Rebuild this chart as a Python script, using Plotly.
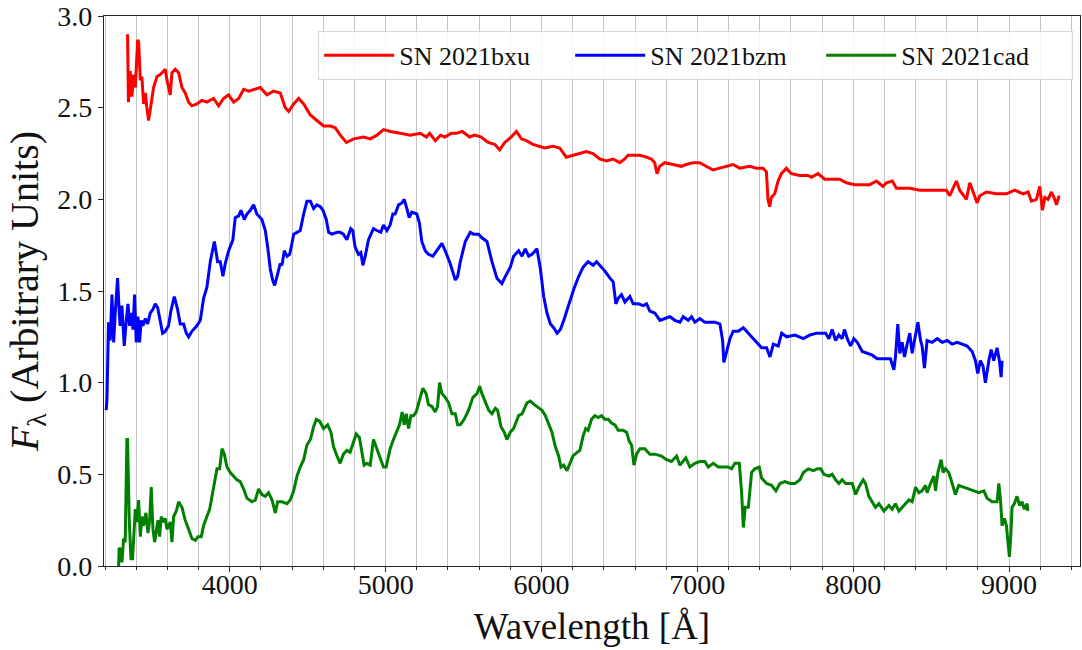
import plotly.graph_objects as go

# ---------------- data ----------------
RED_WAVE = [3344, 3350, 3361, 3372, 3383, 3394, 3409, 3415, 3426, 3436, 3447, 3458, 3468, 3479, 3490,
            3511, 3533, 3554, 3586, 3597, 3618, 3629, 3650, 3672, 3693, 3714, 3736, 3757, 3789, 3821,
            3853, 3896, 3928, 3960, 3992, 4025, 4057, 4089, 4121, 4153, 4196, 4217, 4238, 4281, 4324,
            4356, 4378, 4410, 4442, 4474, 4517, 4559, 4602, 4645, 4677, 4709, 4748, 4795, 4859, 4902,
            4944, 4987, 5030, 5094, 5158, 5222, 5261, 5282, 5319, 5351, 5379, 5421, 5453, 5492, 5539,
            5571, 5614, 5657, 5699, 5732, 5764, 5806, 5839, 5871, 5903, 5945, 5988, 6020, 6074, 6117,
            6159, 6202, 6245, 6288, 6331, 6373, 6416, 6459, 6502, 6534, 6555, 6598, 6630, 6673, 6705,
            6726, 6741, 6758, 6790, 6844, 6897, 6929, 6972, 7015, 7058, 7100, 7143, 7186, 7229, 7271,
            7336, 7379, 7421, 7443, 7453, 7464, 7475, 7496, 7518, 7539, 7571, 7603, 7657, 7710, 7732,
            7774, 7817, 7860, 7913, 7956, 8010, 8063, 8106, 8149, 8191, 8213, 8251, 8277, 8320, 8363,
            8427, 8491, 8555, 8598, 8619, 8662, 8683, 8726, 8748, 8769, 8795, 8812, 8855, 8919, 8983,
            9036, 9090, 9122, 9143, 9175, 9197, 9214, 9229, 9250, 9272, 9293, 9304, 9321]
RED_FLUX = [2.90, 2.53, 2.70, 2.56, 2.68, 2.61, 2.87, 2.86, 2.65, 2.67, 2.52, 2.58, 2.50, 2.43, 2.49,
            2.61, 2.67, 2.68, 2.71, 2.65, 2.57, 2.69, 2.71, 2.69, 2.61, 2.58, 2.53, 2.51, 2.52, 2.54,
            2.53, 2.55, 2.51, 2.55, 2.57, 2.53, 2.55, 2.60, 2.59, 2.60, 2.61, 2.59, 2.57, 2.59, 2.58,
            2.50, 2.48, 2.52, 2.55, 2.52, 2.46, 2.43, 2.40, 2.40, 2.39, 2.35, 2.31, 2.33, 2.34, 2.33,
            2.35, 2.38, 2.37, 2.36, 2.35, 2.36, 2.34, 2.36, 2.32, 2.35, 2.34, 2.36, 2.36, 2.37, 2.34,
            2.35, 2.34, 2.31, 2.30, 2.27, 2.31, 2.34, 2.37, 2.33, 2.32, 2.30, 2.29, 2.28, 2.29, 2.28,
            2.23, 2.24, 2.25, 2.26, 2.25, 2.22, 2.21, 2.22, 2.20, 2.22, 2.24, 2.24, 2.24, 2.23, 2.22,
            2.20, 2.14, 2.18, 2.20, 2.19, 2.18, 2.19, 2.20, 2.20, 2.18, 2.16, 2.17, 2.18, 2.19, 2.17,
            2.18, 2.17, 2.17, 2.15, 2.00, 1.96, 2.01, 2.03, 2.10, 2.14, 2.17, 2.14, 2.13, 2.13, 2.12,
            2.14, 2.11, 2.11, 2.11, 2.09, 2.08, 2.08, 2.08, 2.10, 2.07, 2.09, 2.10, 2.06, 2.06, 2.06,
            2.05, 2.05, 2.05, 2.05, 2.02, 2.10, 2.05, 2.00, 2.09, 2.04, 1.98, 2.02, 2.04, 2.03, 2.03,
            2.05, 2.03, 2.04, 1.99, 2.00, 2.07, 1.94, 2.01, 2.00, 2.04, 2.00, 1.97, 2.02]

BLUE_WAVE = [3207, 3212, 3222, 3233, 3244, 3255, 3265, 3280, 3291, 3297, 3308, 3323, 3336, 3347, 3357,
             3368, 3379, 3389, 3400, 3411, 3421, 3432, 3443, 3458, 3473, 3490, 3507, 3522, 3537, 3554,
             3569, 3586, 3607, 3622, 3644, 3665, 3682, 3704, 3721, 3736, 3757, 3789, 3811, 3832, 3853,
             3875, 3901, 3922, 3939, 3956, 3971, 3993, 4020, 4035, 4057, 4072, 4093, 4110, 4132, 4153,
             4174, 4206, 4228, 4243, 4260, 4275, 4288, 4303, 4324, 4335, 4350, 4367, 4384, 4399, 4410,
             4431, 4452, 4474, 4495, 4517, 4538, 4559, 4581, 4598, 4619, 4634, 4656, 4688, 4708, 4729,
             4751, 4776, 4789, 4804, 4826, 4841, 4854, 4869, 4890, 4911, 4922, 4943, 4969, 4986, 5008,
             5029, 5046, 5061, 5083, 5104, 5119, 5136, 5151, 5168, 5200, 5217, 5232, 5254, 5275, 5303,
             5329, 5361, 5382, 5414, 5447, 5462, 5479, 5511, 5543, 5564, 5596, 5618, 5650, 5682, 5714,
             5746, 5768, 5800, 5821, 5853, 5875, 5896, 5918, 5939, 5971, 5993, 6014, 6035, 6057, 6078,
             6100, 6121, 6143, 6175, 6207, 6239, 6267, 6299, 6332, 6353, 6374, 6406, 6439, 6460, 6477,
             6492, 6513, 6535, 6567, 6588, 6620, 6653, 6674, 6695, 6727, 6760, 6792, 6824, 6856, 6888,
             6909, 6941, 6963, 6984, 7016, 7048, 7081, 7113, 7145, 7162, 7170, 7188, 7209, 7230, 7262,
             7295, 7316, 7348, 7380, 7412, 7444, 7466, 7487, 7519, 7541, 7573, 7626, 7680, 7723, 7765,
             7791, 7823, 7844, 7865, 7887, 7908, 7929, 7944, 7962, 7983, 8004, 8026, 8058, 8090, 8122,
             8154, 8197, 8239, 8261, 8271, 8286, 8299, 8314, 8329, 8346, 8363, 8378, 8400, 8415, 8432,
             8442, 8457, 8474, 8506, 8539, 8571, 8603, 8635, 8667, 8699, 8731, 8763, 8784, 8799, 8816,
             8833, 8848, 8870, 8885, 8902, 8923, 8938, 8949, 8955]
BLUE_FLUX = [0.85, 0.91, 1.33, 1.23, 1.48, 1.22, 1.38, 1.57, 1.38, 1.31, 1.42, 1.20, 1.34, 1.43, 1.31,
             1.38, 1.29, 1.48, 1.22, 1.36, 1.22, 1.34, 1.31, 1.35, 1.32, 1.38, 1.40, 1.43, 1.41, 1.34,
             1.27, 1.28, 1.31, 1.39, 1.47, 1.40, 1.32, 1.32, 1.27, 1.25, 1.28, 1.31, 1.34, 1.46, 1.52,
             1.66, 1.77, 1.66, 1.66, 1.58, 1.65, 1.72, 1.78, 1.90, 1.91, 1.94, 1.89, 1.92, 1.94, 1.97,
             1.92, 1.89, 1.83, 1.74, 1.62, 1.56, 1.53, 1.58, 1.65, 1.64, 1.72, 1.69, 1.70, 1.76, 1.81,
             1.82, 1.83, 1.92, 1.99, 1.99, 1.95, 1.97, 1.96, 1.94, 1.89, 1.82, 1.81, 1.82, 1.82, 1.81,
             1.78, 1.84, 1.83, 1.74, 1.70, 1.71, 1.64, 1.69, 1.78, 1.82, 1.84, 1.83, 1.82, 1.86, 1.83,
             1.86, 1.92, 1.92, 1.97, 1.98, 2.00, 1.95, 1.90, 1.93, 1.92, 1.87, 1.77, 1.72, 1.70, 1.69,
             1.72, 1.76, 1.72, 1.65, 1.56, 1.58, 1.66, 1.77, 1.82, 1.81, 1.81, 1.79, 1.77, 1.66, 1.57,
             1.54, 1.58, 1.63, 1.69, 1.72, 1.69, 1.73, 1.69, 1.70, 1.73, 1.62, 1.47, 1.38, 1.32, 1.30,
             1.27, 1.29, 1.34, 1.43, 1.51, 1.58, 1.63, 1.66, 1.64, 1.66, 1.64, 1.61, 1.57, 1.55, 1.43,
             1.46, 1.48, 1.44, 1.47, 1.43, 1.43, 1.42, 1.43, 1.39, 1.38, 1.34, 1.35, 1.36, 1.34, 1.33,
             1.36, 1.34, 1.36, 1.33, 1.35, 1.33, 1.33, 1.33, 1.32, 1.23, 1.11, 1.17, 1.24, 1.28, 1.28,
             1.30, 1.28, 1.25, 1.22, 1.19, 1.19, 1.14, 1.21, 1.20, 1.27, 1.25, 1.26, 1.24, 1.26, 1.27,
             1.27, 1.27, 1.24, 1.29, 1.23, 1.26, 1.24, 1.29, 1.24, 1.20, 1.24, 1.22, 1.17, 1.16, 1.15,
             1.13, 1.13, 1.13, 1.07, 1.14, 1.32, 1.16, 1.22, 1.14, 1.21, 1.27, 1.16, 1.25, 1.33, 1.23,
             1.20, 1.08, 1.23, 1.22, 1.24, 1.22, 1.23, 1.21, 1.22, 1.21, 1.20, 1.17, 1.12, 1.05, 1.12,
             1.09, 1.00, 1.12, 1.18, 1.12, 1.19, 1.12, 1.03, 1.12]

GREEN_WAVE = [3287, 3290, 3297, 3308, 3319, 3329, 3340, 3344, 3355, 3366, 3376, 3383, 3394, 3404, 3415,
              3426, 3436, 3447, 3462, 3475, 3486, 3496, 3507, 3518, 3528, 3539, 3550, 3560, 3575, 3586,
              3597, 3607, 3618, 3629, 3640, 3657, 3672, 3693, 3714, 3736, 3757, 3779, 3796, 3817, 3832,
              3853, 3871, 3886, 3901, 3918, 3935, 3950, 3965, 3982, 4003, 4025, 4046, 4067, 4089, 4110,
              4142, 4164, 4185, 4206, 4228, 4249, 4271, 4292, 4307, 4335, 4367, 4388, 4410, 4431, 4452,
              4474, 4495, 4517, 4538, 4555, 4576, 4602, 4628, 4649, 4666, 4688, 4708, 4729, 4751, 4772,
              4794, 4811, 4832, 4847, 4862, 4879, 4901, 4922, 4943, 4965, 4986, 5003, 5029, 5050, 5072,
              5089, 5106, 5119, 5132, 5147, 5162, 5179, 5196, 5217, 5239, 5260, 5275, 5297, 5318, 5333,
              5346, 5361, 5382, 5404, 5425, 5447, 5462, 5479, 5504, 5532, 5560, 5586, 5603, 5618, 5639,
              5661, 5682, 5704, 5718, 5740, 5761, 5778, 5800, 5821, 5853, 5875, 5907, 5928, 5954, 5982,
              6003, 6025, 6046, 6067, 6089, 6110, 6125, 6142, 6164, 6181, 6202, 6228, 6246, 6267, 6284,
              6299, 6321, 6342, 6364, 6385, 6406, 6428, 6449, 6471, 6492, 6524, 6546, 6563, 6578, 6593,
              6610, 6631, 6663, 6695, 6727, 6770, 6802, 6834, 6867, 6888, 6909, 6926, 6952, 6984, 7016,
              7048, 7070, 7102, 7134, 7166, 7198, 7220, 7241, 7269, 7284, 7295, 7307, 7327, 7348, 7369,
              7397, 7412, 7444, 7476, 7504, 7530, 7562, 7594, 7626, 7658, 7680, 7712, 7744, 7770, 7791,
              7812, 7844, 7865, 7887, 7908, 7929, 7951, 7972, 7994, 8015, 8036, 8064, 8079, 8100, 8122,
              8143, 8165, 8197, 8229, 8250, 8271, 8293, 8325, 8357, 8378, 8400, 8421, 8442, 8464, 8474,
              8496, 8517, 8528, 8543, 8564, 8577, 8592, 8613, 8635, 8656, 8677, 8709, 8742, 8774, 8806,
              8838, 8859, 8891, 8912, 8923, 8934, 8945, 8955, 8970, 8983, 8994, 9002, 9012, 9019, 9034,
              9051, 9068, 9083, 9098, 9116, 9120]
GREEN_FLUX = [0.00, 0.10, 0.09, 0.02, 0.15, 0.13, 0.69, 0.69, 0.25, 0.04, 0.04, 0.18, 0.31, 0.24, 0.36,
              0.16, 0.27, 0.22, 0.29, 0.18, 0.25, 0.43, 0.20, 0.13, 0.20, 0.25, 0.16, 0.27, 0.24, 0.26,
              0.20, 0.22, 0.24, 0.13, 0.27, 0.30, 0.35, 0.32, 0.25, 0.20, 0.15, 0.14, 0.16, 0.16, 0.22,
              0.27, 0.31, 0.38, 0.45, 0.53, 0.53, 0.64, 0.61, 0.54, 0.51, 0.49, 0.47, 0.46, 0.42, 0.37,
              0.35, 0.36, 0.42, 0.39, 0.38, 0.40, 0.36, 0.29, 0.35, 0.35, 0.34, 0.36, 0.41, 0.49, 0.54,
              0.58, 0.66, 0.69, 0.76, 0.80, 0.79, 0.75, 0.77, 0.73, 0.65, 0.60, 0.56, 0.61, 0.63, 0.62,
              0.68, 0.72, 0.70, 0.62, 0.55, 0.56, 0.55, 0.69, 0.64, 0.59, 0.54, 0.54, 0.64, 0.69, 0.74,
              0.77, 0.84, 0.77, 0.83, 0.75, 0.82, 0.82, 0.84, 0.91, 0.97, 0.94, 0.88, 0.87, 0.84, 0.87,
              1.00, 0.94, 0.92, 0.89, 0.83, 0.83, 0.77, 0.77, 0.80, 0.85, 0.92, 0.94, 0.98, 0.94, 0.89,
              0.85, 0.83, 0.86, 0.85, 0.76, 0.73, 0.69, 0.73, 0.75, 0.82, 0.83, 0.89, 0.90, 0.88, 0.86,
              0.85, 0.82, 0.78, 0.73, 0.65, 0.60, 0.54, 0.55, 0.52, 0.56, 0.60, 0.62, 0.63, 0.71, 0.75,
              0.74, 0.80, 0.82, 0.81, 0.82, 0.80, 0.80, 0.78, 0.77, 0.74, 0.74, 0.73, 0.68, 0.66, 0.55,
              0.61, 0.64, 0.64, 0.61, 0.61, 0.60, 0.58, 0.57, 0.60, 0.55, 0.57, 0.59, 0.54, 0.56, 0.57,
              0.57, 0.54, 0.56, 0.54, 0.54, 0.54, 0.53, 0.56, 0.56, 0.40, 0.21, 0.32, 0.32, 0.51, 0.53,
              0.54, 0.48, 0.45, 0.44, 0.41, 0.45, 0.46, 0.45, 0.45, 0.47, 0.51, 0.53, 0.52, 0.53, 0.53,
              0.50, 0.49, 0.50, 0.47, 0.45, 0.47, 0.45, 0.45, 0.45, 0.39, 0.43, 0.47, 0.45, 0.38, 0.35,
              0.32, 0.34, 0.30, 0.33, 0.31, 0.34, 0.30, 0.33, 0.36, 0.35, 0.43, 0.40, 0.41, 0.44, 0.40,
              0.45, 0.49, 0.41, 0.51, 0.58, 0.51, 0.53, 0.51, 0.45, 0.39, 0.44, 0.43, 0.42, 0.41, 0.40,
              0.41, 0.37, 0.35, 0.35, 0.35, 0.45, 0.36, 0.22, 0.26, 0.22, 0.11, 0.05, 0.18, 0.32, 0.34,
              0.38, 0.33, 0.35, 0.31, 0.34, 0.30]

SERIES_NAMES = ["SN 2021bxu", "SN 2021bzm", "SN 2021cad"]
SERIES_COLORS = ["#ff0000", "#0000ff", "#008000"]

X_RANGE = [3193, 9455]
Y_RANGE = [0, 3]
Y_TICKS = [0.0, 0.5, 1.0, 1.5, 2.0, 2.5, 3.0]

FONT = "Liberation Serif, Times New Roman, serif"

# ---------------- figure ----------------
fig = go.Figure()
for name, color, xs, ys in zip(SERIES_NAMES, SERIES_COLORS,
                               [RED_WAVE, BLUE_WAVE, GREEN_WAVE],
                               [RED_FLUX, BLUE_FLUX, GREEN_FLUX]):
    fig.add_trace(go.Scatter(x=xs, y=ys, mode="lines", name=name,
                             line=dict(color=color, width=3)))

axis_line = "#262626"
fig.update_layout(
    width=1082, height=650,
    margin=dict(l=104, r=2, t=16, b=84),
    paper_bgcolor="white", plot_bgcolor="white",
    font=dict(family=FONT, color="#111111"),
    showlegend=True,
    legend=dict(
        orientation="h", x=0.993, xanchor="right", y=0.973, yanchor="top",
        font=dict(family=FONT, size=26, color="#111111"),
        bgcolor="rgba(255,255,255,0.85)", bordercolor="#d6d6d6", borderwidth=1,
        itemwidth=70, entrywidth=166, entrywidthmode="pixels",
        traceorder="normal",
    ),
    xaxis=dict(
        range=X_RANGE, autorange=False,
        tick0=0, dtick=1000, tickformat="d",
        ticks="outside", ticklen=5, tickwidth=1.2, tickcolor=axis_line,
        ticklabelstandoff=-12,
        tickfont=dict(family=FONT, size=28, color="#111111"),
        showgrid=True, gridcolor="#c4c4c4", gridwidth=1,
        minor=dict(dtick=200, tick0=0, ticks="outside", ticklen=3, tickwidth=1,
                   tickcolor=axis_line, showgrid=True, gridcolor="#c4c4c4", gridwidth=1),
        showline=True, linecolor=axis_line, linewidth=1.3, mirror=True,
        zeroline=False,
        title=dict(text="Wavelength [Å]", font=dict(family=FONT, size=37, color="#111111"),
                   standoff=14),
    ),
    yaxis=dict(
        range=Y_RANGE, autorange=False,
        tickvals=Y_TICKS, tickformat=".1f",
        ticks="outside", ticklen=5, tickwidth=1.2, tickcolor=axis_line,
        tickfont=dict(family=FONT, size=28, color="#111111"),
        showgrid=False, zeroline=False,
        showline=True, linecolor=axis_line, linewidth=1.3, mirror=True,
        title=dict(text="<i>F</i><sub>λ</sub> (Arbitrary Units)",
                   font=dict(family=FONT, size=40, color="#111111"), standoff=6),
    ),
)

fig.write_html("out.html")
